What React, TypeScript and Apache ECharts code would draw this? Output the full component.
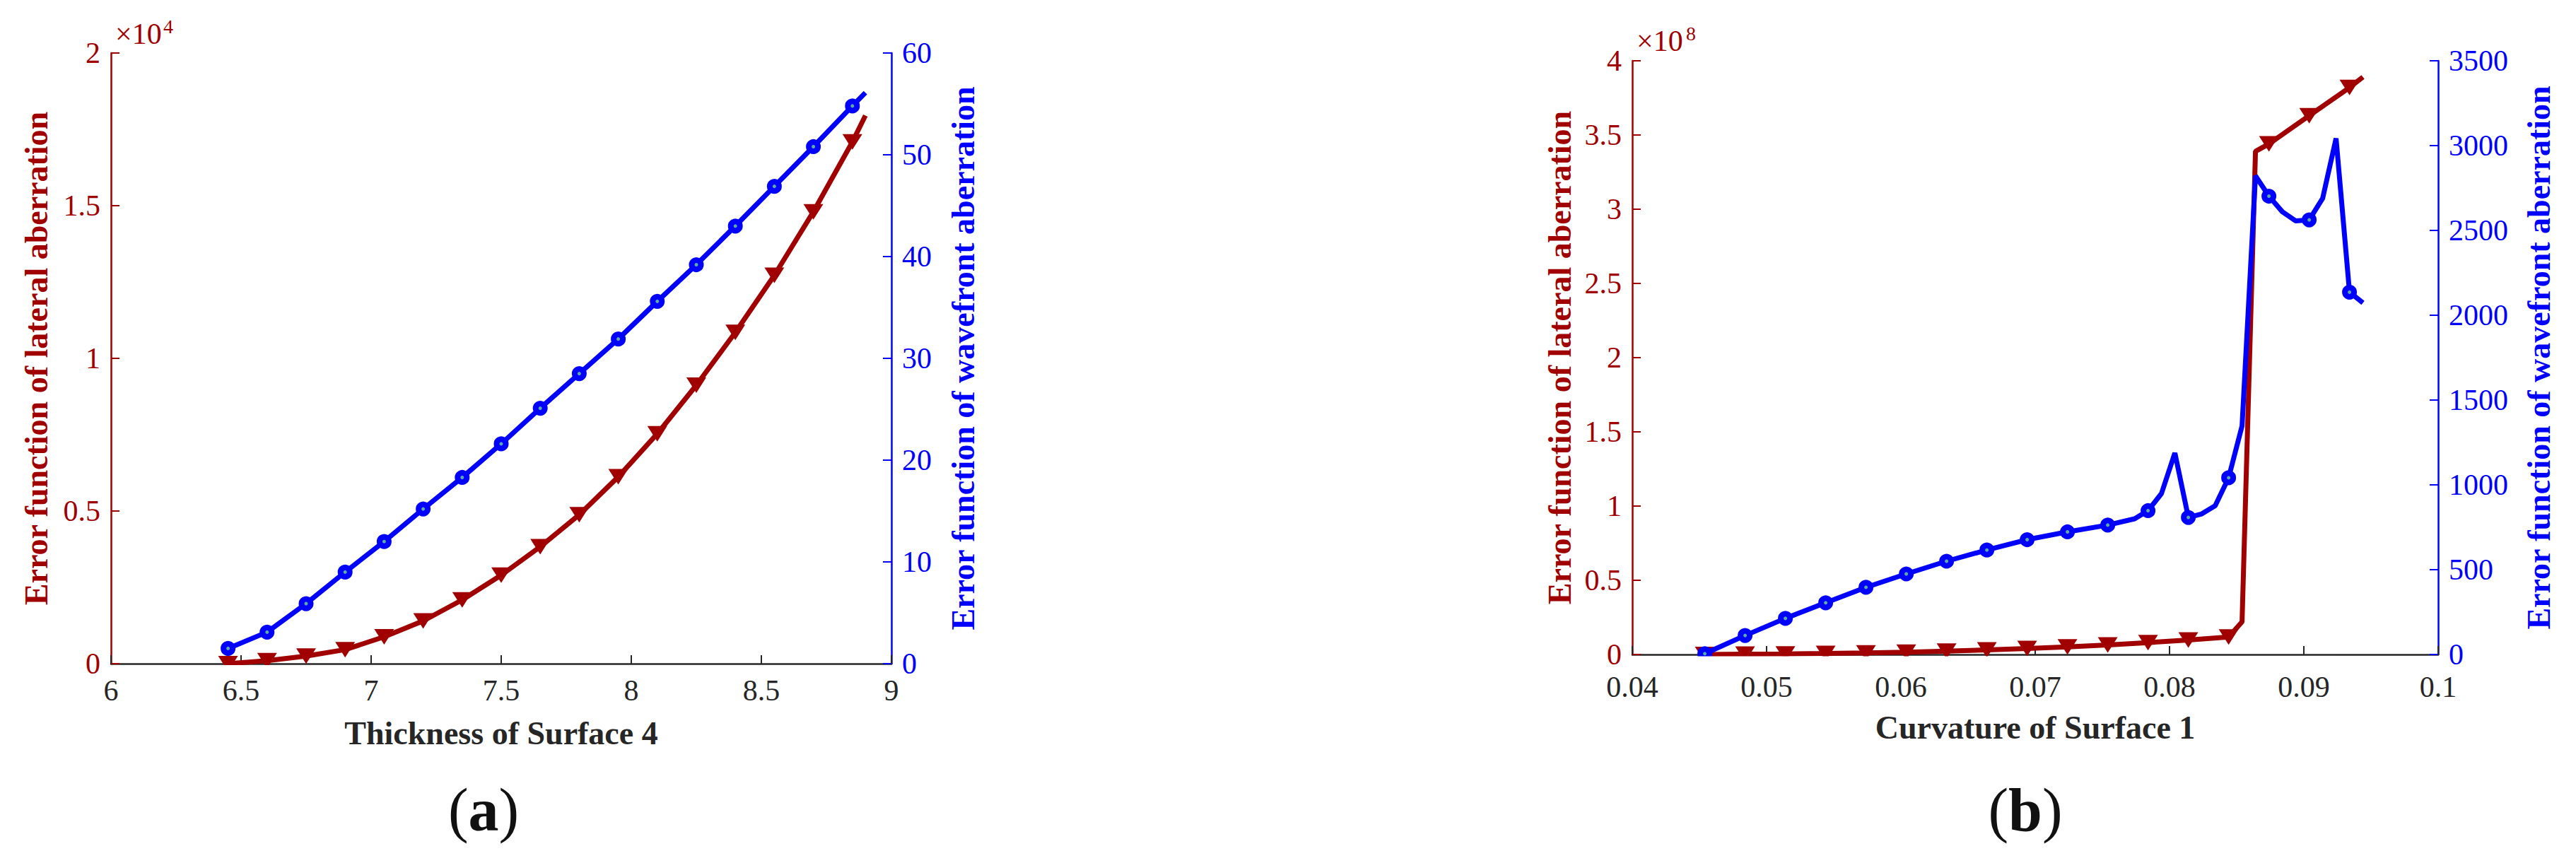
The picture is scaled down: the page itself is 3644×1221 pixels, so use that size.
import React, { useEffect, useRef } from "react";
import * as echarts from "echarts";

const W = 3644;
const H = 1221;

// ---------- (a) Thickness of Surface 4 ----------
const aX = [6.45, 6.6, 6.75, 6.9, 7.05, 7.2, 7.35, 7.5, 7.65, 7.8, 7.95, 8.1, 8.25, 8.4, 8.55, 8.7, 8.85, 8.9];
const aLateral = [0, 100, 250, 460, 880, 1400, 2090, 2900, 3830, 4880, 6120, 7530, 9120, 10850, 12720, 14800, 17090, 17950];
const aWavefront = [1.5, 3.1, 5.9, 9.0, 12.0, 15.2, 18.3, 21.6, 25.1, 28.5, 31.9, 35.6, 39.2, 43.0, 46.9, 50.8, 54.8, 56.1];
const aMarker = [1, 1, 1, 1, 1, 1, 1, 1, 1, 1, 1, 1, 1, 1, 1, 1, 1, 0];

const aXTicks = [6, 6.5, 7, 7.5, 8, 8.5, 9];
const aLatTicks = [0, 0.5, 1, 1.5, 2];
const aLatExp = 4;
const aWaveTicks = [0, 10, 20, 30, 40, 50, 60];

// ---------- (b) Curvature of Surface 1 ----------
const bLatX = [0.0454, 0.0484, 0.0514, 0.0544, 0.0574, 0.0604, 0.0634, 0.0664, 0.0694, 0.0724, 0.0754, 0.0784, 0.0814, 0.0844, 0.0854, 0.0864, 0.0874, 0.0904, 0.0934, 0.0944];
const bLateral = [0, 0.002e8, 0.004e8, 0.007e8, 0.011e8, 0.016e8, 0.023e8, 0.031e8, 0.04e8, 0.051e8, 0.064e8, 0.08e8, 0.098e8, 0.118e8, 0.22e8, 3.39e8, 3.44e8, 3.63e8, 3.82e8, 3.89e8];
const bLatMarker = [1, 1, 1, 1, 1, 1, 1, 1, 1, 1, 1, 1, 1, 1, 0, 0, 1, 1, 1, 0];

const bWaveX = [0.0454, 0.0484, 0.0514, 0.0544, 0.0574, 0.0604, 0.0634, 0.0664, 0.0694, 0.0724, 0.0754, 0.0774, 0.0784, 0.0794, 0.0804, 0.0814, 0.0824, 0.0834, 0.0844, 0.0854, 0.0864, 0.0874, 0.0884, 0.0894, 0.0904, 0.0914, 0.0924, 0.0934, 0.0944];
const bWavefront = [5, 112, 213, 305, 396, 475, 550, 616, 677, 723, 763, 800, 848, 949, 1188, 808, 829, 877, 1042, 1347, 2822, 2702, 2610, 2556, 2562, 2689, 3043, 2136, 2073];
const bWaveMarker = [1, 1, 1, 1, 1, 1, 1, 1, 1, 1, 1, 0, 1, 0, 0, 1, 0, 0, 1, 0, 0, 1, 0, 0, 1, 0, 0, 1, 0];

const bXTicks = [0.04, 0.05, 0.06, 0.07, 0.08, 0.09, 0.1];
const bLatTicks = [0, 0.5, 1, 1.5, 2, 2.5, 3, 3.5, 4];
const bLatExp = 8;
const bWaveTicks = [0, 500, 1000, 1500, 2000, 2500, 3000, 3500];

// ---------- styles ----------
const RED = "#a00000";
const BLUE = "#0000ff";
const DARK = "#262626";
const DOT = "#5aae9e";
const FONT = "'Liberation Serif', 'Times New Roman', serif";
const LABEL_LH = 30;

const clean = (v: number) => String(+v.toFixed(6));

function pts(xs: number[], ys: number[], mk: number[]) {
  return xs.map((x, i) => (mk[i] ? { value: [x, ys[i]] } : { value: [x, ys[i]], symbol: "none" }));
}

function rangeOf(ticks: number[], scale = 1) {
  return {
    min: ticks[0] * scale,
    max: ticks[ticks.length - 1] * scale,
    interval: +((ticks[1] - ticks[0]) * scale).toFixed(10),
  };
}

function xAxisOpt(grid: number, ticks: number[], name: string, gap: number, margin: number) {
  return {
    type: "value",
    gridIndex: grid,
    ...rangeOf(ticks),
    axisLine: { show: true, onZero: false, lineStyle: { color: DARK, width: 2.5 } },
    axisTick: { show: true, inside: true, length: 12, lineStyle: { color: DARK, width: 2 } },
    axisLabel: {
      color: DARK, fontSize: 42, fontFamily: FONT, margin, lineHeight: LABEL_LH,
      showMinLabel: true, showMaxLabel: true,
      formatter: (v: number) => clean(v),
    },
    splitLine: { show: false },
    name,
    nameLocation: "middle",
    nameGap: gap,
    nameTextStyle: { color: DARK, fontSize: 46, fontWeight: "bold", fontFamily: FONT },
  };
}

function yAxisOpt(grid: number, pos: "left" | "right", ticks: number[], exp: number, color: string, name: string, gap: number) {
  const scale = Math.pow(10, exp);
  return {
    type: "value",
    gridIndex: grid,
    position: pos,
    ...rangeOf(ticks, scale),
    axisLine: { show: true, onZero: false, lineStyle: { color, width: 2.5 } },
    axisTick: { show: true, inside: true, length: 12, lineStyle: { color, width: 2 } },
    axisLabel: {
      color, fontSize: 42, fontFamily: FONT, margin: 15, lineHeight: LABEL_LH,
      showMinLabel: true, showMaxLabel: true,
      formatter: (v: number) => clean(v / scale),
    },
    splitLine: { show: false },
    name,
    nameLocation: "middle",
    nameRotate: 90,
    nameGap: gap,
    nameTextStyle: { color, fontSize: 46, fontWeight: "bold", fontFamily: FONT },
  };
}

function redSeries(xi: number, yi: number, data: any[]) {
  return {
    type: "line",
    xAxisIndex: xi,
    yAxisIndex: yi,
    data,
    clip: false,
    lineStyle: { color: RED, width: 7 },
    itemStyle: { color: RED },
    symbol: "triangle",
    symbolRotate: 180,
    symbolSize: [28, 22],
    z: 2,
  };
}

function blueSeries(xi: number, yi: number, data: any[]) {
  return {
    type: "line",
    xAxisIndex: xi,
    yAxisIndex: yi,
    data,
    clip: false,
    lineStyle: { color: BLUE, width: 7 },
    itemStyle: { color: DOT, borderColor: BLUE, borderWidth: 8 },
    symbol: "circle",
    symbolSize: 13,
    z: 3,
  };
}

function txt(x: number, y: number, text: string, size: number, color: string, align = "left", weight = "normal") {
  return {
    type: "text",
    x,
    y,
    z: 100,
    style: {
      text,
      fill: color,
      fontSize: size,
      fontFamily: FONT,
      fontWeight: weight,
      align,
      textAlign: align,
      verticalAlign: "middle",
      textVerticalAlign: "middle",
    },
  };
}

function caption(cx: number, cy: number, letter: string) {
  return {
    type: "text",
    x: cx,
    y: cy,
    z: 100,
    style: {
      text: "{p|(}{b|" + letter + "}{p|)}",
      align: "center",
      textAlign: "center",
      verticalAlign: "middle",
      textVerticalAlign: "middle",
      rich: {
        p: { fontSize: 86, fontFamily: FONT, fill: "#111", color: "#111" },
        b: { fontSize: 86, fontFamily: FONT, fontWeight: "bold", fill: "#111", color: "#111" },
      },
    },
  };
}

function mask(x: number, y: number, w: number, h: number) {
  return { type: "rect", z: 50, shape: { x, y, width: w, height: h }, style: { fill: "#ffffff" } };
}

function buildOption() {
  return {
    animation: false,
    backgroundColor: "#ffffff",
    grid: [
      { left: 157, top: 75, width: 1104, height: 864, outerBoundsMode: "none", containLabel: false },
      { left: 2309, top: 86, width: 1140, height: 840, outerBoundsMode: "none", containLabel: false },
    ],
    xAxis: [
      xAxisOpt(0, aXTicks, "Thickness of Surface 4", 75, 23),
      xAxisOpt(1, bXTicks, "Curvature of Surface 1", 80, 31),
    ],
    yAxis: [
      yAxisOpt(0, "left", aLatTicks, aLatExp, RED, "Error function of lateral aberration", 83),
      yAxisOpt(0, "right", aWaveTicks, 0, BLUE, "Error function of wavefront aberration", 78),
      yAxisOpt(1, "left", bLatTicks, bLatExp, RED, "Error function of lateral aberration", 80),
      yAxisOpt(1, "right", bWaveTicks, 0, BLUE, "Error function of wavefront aberration", 119),
    ],
    series: [
      redSeries(0, 0, pts(aX, aLateral, aMarker)),
      blueSeries(0, 1, pts(aX, aWavefront, aMarker)),
      redSeries(1, 2, pts(bLatX, bLateral, bLatMarker)),
      blueSeries(1, 3, pts(bWaveX, bWavefront, bWaveMarker)),
    ],
    graphic: {
      elements: [
        mask(160, 941, 1098, 16),
        mask(2312, 928.5, 1134, 15),
        txt(163, 48, "×10", 42, RED),
        txt(231, 37.5, String(aLatExp), 28, RED),
        txt(2315, 58, "×10", 42, RED),
        txt(2385, 47.5, String(bLatExp), 28, RED),
        caption(684, 1146, "a"),
        caption(2865, 1146, "b"),
      ],
    },
  };
}

export default function App() {
  const ref = useRef<HTMLDivElement>(null);
  useEffect(() => {
    if (!ref.current) return;
    const chart = echarts.init(ref.current, null, { renderer: "svg", width: W, height: H });
    chart.setOption(buildOption() as any);
    return () => {
      chart.dispose();
    };
  }, []);
  return (
    <div
      ref={ref}
      style={{ position: "fixed", left: 0, top: 0, width: W, height: H, background: "#ffffff" }}
    />
  );
}
